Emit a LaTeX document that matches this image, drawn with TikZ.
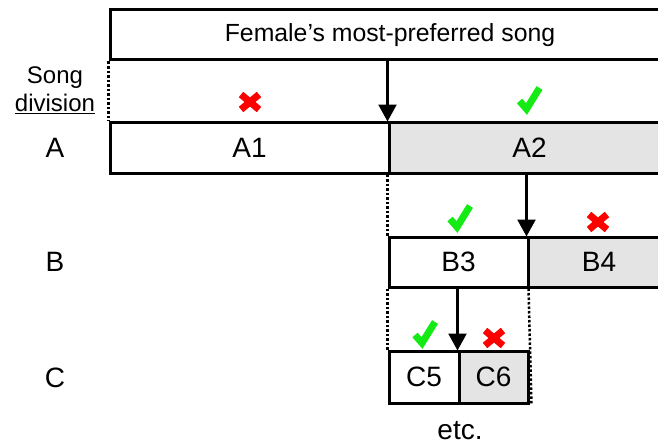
\documentclass[tikz,border=0pt]{standalone}
\usepackage{fontspec}
\setmainfont{Liberation Sans}
\usetikzlibrary{arrows.meta}
\definecolor{boxgray}{RGB}{228,228,228}
\definecolor{okgreen}{RGB}{20,235,20}
\definecolor{nored}{RGB}{255,0,0}
\begin{document}
\begin{tikzpicture}[x=1pt,y=-1pt,
  cell/.style={draw=black,line width=3pt,inner sep=0pt,anchor=center,font=\fontsize{28}{30}\selectfont},
  graycell/.style={cell,fill=boxgray},
  lbl/.style={inner sep=0pt,font=\fontsize{28}{30}\selectfont},
  smalllbl/.style={inner sep=0pt,font=\fontsize{24}{26}\selectfont},
  arr/.style={line width=2.5pt,-{Triangle[length=17pt,width=18pt]},shorten >=-1pt},
  dotline/.style={line width=2.5pt,dash pattern=on 2.5pt off 2pt},
  yesmark/.pic={\draw[okgreen,line width=7pt,line join=miter,line cap=butt] (-10,1) -- (-3,9) -- (10,-12);},
  nomark/.pic={\draw[nored,line width=7pt,line cap=butt] (-9,-7.5) -- (9,7.5) (-9,7.5) -- (9,-7.5);}]
\useasboundingbox (0,0) rectangle (658,444);
% boxes
\node[cell,minimum width=560pt,minimum height=50pt,font=\fontsize{24.8}{26}\selectfont] (top) at (390,35) {Female's most-preferred song};
\node[cell,minimum width=279pt,minimum height=51pt] (A1) at (249.5,147.5) {A1};
\node[graycell,minimum width=281pt,minimum height=51pt] (A2) at (529.5,147.5) {A2};
\node[cell,minimum width=139pt,minimum height=50pt] (B3) at (458.5,262) {B3};
\node[graycell,minimum width=142pt,minimum height=50pt] (B4) at (599,262) {B4};
\node[cell,minimum width=70pt,minimum height=52pt] (C5) at (424,377) {C5};
\node[graycell,minimum width=69pt,minimum height=52pt] (C6) at (493.5,377) {C6};
% arrows
\draw[arr] (top.south -| A2.north west) -- (A2.north west);
\draw[arr] (A2.south -| B4.north west) -- (B4.north west);
\draw[arr] (B3.south -| C6.north west) -- (C6.north west);
% dotted guides
\draw[dotline] (top.south west) -- (A1.north west);
\draw[dotline] (A2.south west) -- (B3.north west);
\draw[dotline] (B3.south west) -- (C5.north west);
\draw[dotline] ([xshift=2pt]B4.south west) -- ([xshift=2pt]C6.south east);
% left labels
\node[smalllbl] (song) at (55,78) {Song};
\node[smalllbl] (div) at (55,104) {\underline{division}};
\node[lbl] (la) at (55,148) {A};
\node[lbl] (lb) at (55,262) {B};
\node[lbl] (lc) at (55,378) {C};
\node[lbl,anchor=base] (etc) at (460,439) {etc.};
% marks
\pic at (250,102) {nomark};
\pic at (529.5,100) {yesmark};
\pic at (460,218) {yesmark};
\pic at (598,222) {nomark};
\pic at (425,334) {yesmark};
\pic at (494,338) {nomark};
\end{tikzpicture}
\end{document}
